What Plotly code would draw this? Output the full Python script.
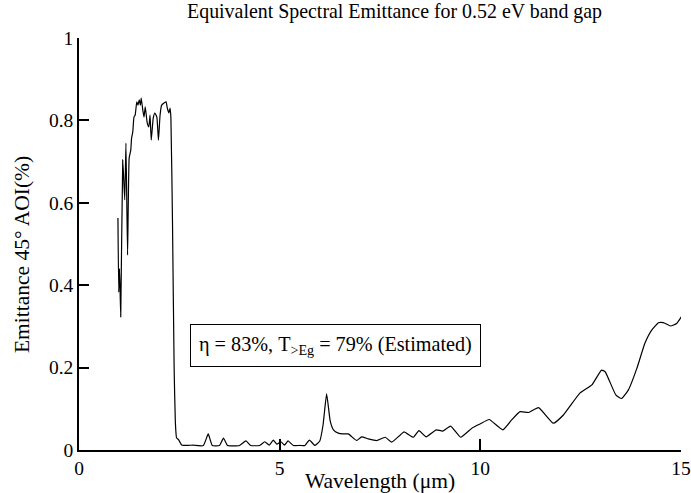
import plotly.graph_objects as go

wavelength_um = [0.97, 0.99, 1.01, 1.04, 1.09, 1.14, 1.17, 1.21, 1.25, 1.29, 1.31, 1.34, 1.37, 1.40,
                 1.44, 1.47, 1.50, 1.53, 1.55, 1.59, 1.62, 1.65, 1.70, 1.74, 1.77, 1.80, 1.85, 1.89,
                 1.94, 1.98, 2.02, 2.06, 2.12, 2.17, 2.20, 2.24, 2.27, 2.29, 2.33, 2.37, 2.40, 2.43,
                 2.48, 2.56, 2.70, 2.85, 2.90, 3.10, 3.22, 3.32, 3.50, 3.60, 3.70, 4.00, 4.16, 4.28,
                 4.50, 4.63, 4.74, 4.84, 4.93, 5.03, 5.12, 5.21, 5.34, 5.50, 5.63, 5.74, 5.88, 6.00,
                 6.08, 6.17, 6.26, 6.34, 6.46, 6.58, 6.71, 6.92, 7.04, 7.21, 7.42, 7.63, 7.79, 8.00,
                 8.10, 8.33, 8.47, 8.65, 8.90, 9.06, 9.26, 9.51, 9.79, 9.99, 10.22, 10.56, 10.78,
                 10.99, 11.20, 11.45, 11.82, 12.07, 12.48, 12.78, 13.02, 13.11, 13.38, 13.52, 13.69,
                 13.90, 14.10, 14.27, 14.44, 14.56, 14.74, 14.89, 15.02]
emittance = [0.563, 0.383, 0.44, 0.323, 0.704, 0.607, 0.745, 0.473, 0.709, 0.728, 0.757, 0.772, 0.808,
             0.813, 0.845, 0.837, 0.850, 0.837, 0.854, 0.825, 0.808, 0.833, 0.794, 0.784, 0.813, 0.752,
             0.806, 0.818, 0.808, 0.752, 0.813, 0.837, 0.842, 0.845, 0.830, 0.818, 0.830, 0.806, 0.55,
             0.20, 0.07, 0.03, 0.025, 0.012, 0.011, 0.012, 0.011, 0.011, 0.039, 0.011, 0.011, 0.029,
             0.011, 0.011, 0.022, 0.011, 0.011, 0.02, 0.012, 0.024, 0.014, 0.02, 0.012, 0.022, 0.011,
             0.011, 0.011, 0.024, 0.011, 0.022, 0.06, 0.136, 0.07, 0.049, 0.041, 0.039, 0.039, 0.023,
             0.032, 0.027, 0.023, 0.031, 0.019, 0.036, 0.044, 0.031, 0.047, 0.032, 0.049, 0.046,
             0.058, 0.031, 0.053, 0.063, 0.074, 0.049, 0.073, 0.093, 0.091, 0.103, 0.065, 0.085,
             0.138, 0.158, 0.194, 0.19, 0.133, 0.125, 0.146, 0.198, 0.259, 0.291, 0.309, 0.309,
             0.301, 0.307, 0.325]

x_ticks = [0, 5, 10, 15]
y_ticks = [0, 0.2, 0.4, 0.6, 0.8, 1]
y_tick_labels = ["0", "0.2", "0.4", "0.6", "0.8", "1"]

title_text = "Equivalent Spectral Emittance for 0.52 eV band gap"
x_title = "Wavelength (\u03bcm)"
y_title = "Emittance 45\u00b0 AOI(%)"
note_text = "\u03b7 = 83%, T<sub>>Eg</sub> = 79% (Estimated)"

FF = "Liberation Serif"

fig = go.Figure()
fig.add_trace(go.Scatter(x=wavelength_um, y=emittance, mode="lines",
                         line=dict(color="black", width=1.2, shape="spline", smoothing=0.4),
                         showlegend=False, hoverinfo="skip"))

fig.update_layout(
    width=691, height=493,
    margin=dict(l=79, r=10, t=38, b=43, autoexpand=False),
    paper_bgcolor="white", plot_bgcolor="white",
    font=dict(family=FF, size=16, color="black"),
    title=dict(text=title_text, x=0.571, xanchor="center", y=0.992, yanchor="top",
               font=dict(family=FF, size=19.9, color="black")),
    xaxis=dict(range=[0, 15], tickvals=x_ticks, ticks="inside", ticklen=11, tickwidth=1.5,
               tickcolor="black", showline=True, linecolor="black", linewidth=1.5,
               showgrid=False, zeroline=False, mirror=False, automargin=False,
               title=dict(text=x_title, standoff=0, font=dict(family=FF, size=21.5)),
               tickfont=dict(family=FF, size=19.5)),
    yaxis=dict(range=[0, 1], tickvals=y_ticks, ticktext=y_tick_labels, ticks="inside",
               ticklen=10, tickwidth=1.5, tickcolor="black", showline=True, linecolor="black",
               linewidth=1.5, showgrid=False, zeroline=False, automargin=False,
               tickfont=dict(family=FF, size=19.5)),
)

fig.add_annotation(x=-0.095, y=0.475, xref="paper", yref="paper", text=y_title, showarrow=False,
                   textangle=-90, xanchor="center", yanchor="middle",
                   font=dict(family=FF, size=21.5, color="black"))

fig.add_annotation(x=6.39, y=0.254, xref="x", yref="y", text=note_text, showarrow=False,
                   font=dict(family=FF, size=20.2, color="black"),
                   bordercolor="black", borderwidth=1, borderpad=8, bgcolor="white")

fig.write_html("out.html")
